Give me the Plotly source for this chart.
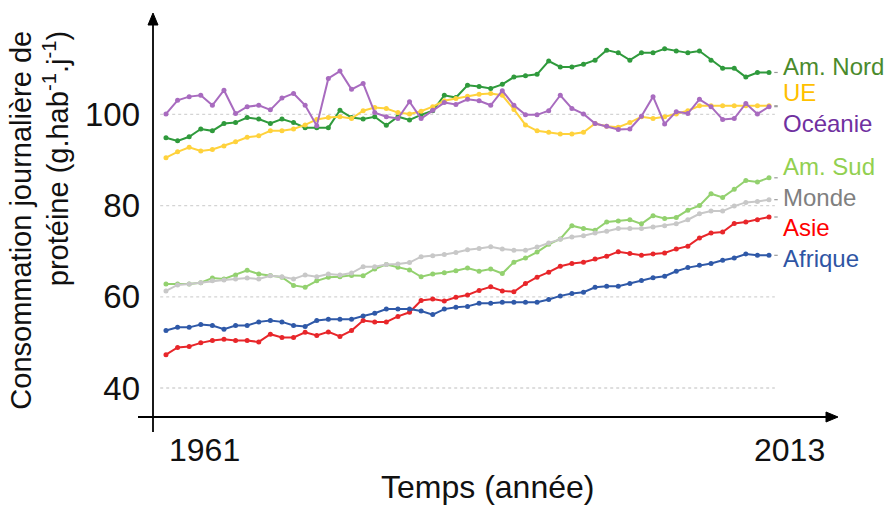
import plotly.graph_objects as go

# years 1961 -> 2013
years = list(range(1961, 2014))

am_nord = [94.9, 94.2, 95.1, 96.8, 96.4, 98.0, 98.2, 99.3, 99.0, 98.0, 99.0, 98.2, 97.1, 97.1, 97.1, 100.9, 99.3, 99.0,
           99.5, 97.6, 99.5, 98.8, 99.9, 100.8, 104.2, 103.7, 106.4, 106.1, 105.7, 106.6, 108.2, 108.5, 108.8, 111.7,
           110.4, 110.4, 111.0, 111.9, 114.1, 113.5, 111.9, 113.5, 113.5, 114.4, 113.9, 113.5, 113.9, 111.9, 110.1,
           110.1, 108.2, 109.2, 109.2]
ue = [90.5, 91.8, 92.8, 92.0, 92.3, 93.1, 94.0, 95.0, 95.3, 96.4, 96.4, 96.8, 97.7, 98.9, 99.3, 99.5, 99.1, 100.8,
      101.5, 101.3, 100.4, 100.1, 100.7, 101.7, 103.0, 103.5, 104.0, 104.4, 104.6, 104.2, 101.1, 97.7, 96.4, 96.1,
      95.7, 95.7, 96.1, 98.0, 97.4, 97.2, 98.2, 99.5, 99.1, 99.5, 100.1, 100.8, 101.9, 101.9, 101.9, 101.9, 101.9,
      101.9, 101.9]
oceanie = [100.1, 103.1, 103.9, 104.2, 102.0, 105.3, 100.2, 101.7, 102.0, 101.0, 103.6, 104.6, 102.0, 97.5, 107.9,
           109.5, 105.5, 106.8, 100.4, 99.5, 99.1, 102.8, 99.1, 100.9, 102.6, 102.2, 103.3, 103.0, 102.0, 105.2,
           102.0, 99.9, 99.9, 100.8, 104.2, 101.3, 100.1, 98.0, 97.4, 96.7, 96.8, 99.6, 103.9, 97.9, 100.6, 100.2,
           103.3, 101.7, 98.9, 99.1, 102.4, 100.1, 101.7]
am_sud = [62.8, 62.8, 62.8, 63.1, 64.1, 63.9, 64.8, 65.8, 65.0, 64.7, 64.3, 62.5, 62.1, 63.5, 64.3, 64.4, 64.7, 64.6,
          66.1, 67.1, 66.5, 65.9, 64.4, 65.0, 65.3, 65.7, 66.3, 65.6, 66.1, 65.1, 67.6, 68.5, 69.8, 71.5, 72.7, 75.6,
          75.0, 74.6, 76.4, 76.6, 76.9, 76.0, 77.8, 77.2, 77.4, 79.0, 80.0, 82.6, 81.8, 83.6, 85.5, 85.2, 86.1]
monde = [61.3, 62.6, 62.8, 63.1, 63.5, 63.7, 63.9, 64.1, 63.9, 64.6, 64.4, 63.9, 64.8, 64.4, 65.0, 64.8, 65.2, 66.6,
         66.6, 67.1, 67.2, 67.5, 68.8, 69.0, 69.3, 69.7, 70.3, 70.6, 71.0, 70.5, 70.2, 70.2, 70.9, 71.8, 72.6, 73.1,
         73.4, 74.0, 74.4, 75.0, 75.0, 75.0, 75.3, 75.6, 76.0, 76.9, 78.2, 78.8, 78.8, 79.9, 80.7, 80.9, 81.3]
asie = [47.3, 48.9, 49.1, 49.9, 50.4, 50.7, 50.4, 50.4, 50.1, 51.8, 51.1, 51.1, 52.2, 51.5, 52.3, 51.3, 52.6, 54.8,
        54.5, 54.5, 55.7, 56.6, 59.2, 59.5, 59.1, 59.9, 60.4, 61.4, 62.2, 61.3, 61.1, 62.9, 64.3, 65.4, 66.7, 67.3,
        67.6, 68.3, 68.9, 69.9, 69.5, 69.1, 69.4, 69.6, 70.5, 71.1, 72.9, 74.0, 74.2, 76.1, 76.4, 76.9, 77.5]
afrique = [52.6, 53.3, 53.3, 53.9, 53.7, 52.9, 53.7, 53.7, 54.5, 54.8, 54.5, 53.7, 53.5, 54.8, 55.1, 55.1, 55.1, 55.8,
           56.4, 57.3, 57.3, 57.3, 56.9, 56.1, 57.3, 57.7, 57.9, 58.6, 58.6, 58.8, 58.8, 58.8, 58.8, 59.4, 60.2, 60.7,
           61.0, 62.1, 62.3, 62.3, 62.9, 63.6, 64.2, 64.5, 65.6, 66.4, 66.9, 67.3, 68.0, 68.5, 69.4, 69.1, 69.1]

names = ['Am. Nord', 'UE', 'Océanie', 'Am. Sud', 'Monde', 'Asie', 'Afrique']
series = [am_nord, ue, oceanie, am_sud, monde, asie, afrique]
line_colors = ['#2f9a3c', '#ffd23c', '#a86bbf', '#93d16f', '#c8c8c8', '#e8262a', '#2f59a8']
label_colors = ['#4a8a2c', '#ffc000', '#7030a0', '#92d050', '#808080', '#ff0000', '#2f55a4']
label_y = [110.6, 104.7, 97.9, 88.5, 81.7, 75.1, 68.3]   # where the end labels sit

y_ticks = [40, 60, 80, 100]
x_ticks = [1961, 2013]

FONT = 'Liberation Sans, Arial, sans-serif'

fig = go.Figure()

# dotted grid lines (drawn first so they sit under the data)
for v in y_ticks:
    fig.add_shape(type='line', xref='x', yref='y', x0=1960.5, x1=2013.5, y0=v, y1=v,
                  line=dict(color='#d4d4d4', width=1.3, dash='dot'), layer='below')

for name, vals, lc in zip(names, series, line_colors):
    fig.add_trace(go.Scatter(x=years, y=vals, name=name, mode='lines+markers',
                             line=dict(color=lc, width=2),
                             marker=dict(color=lc, size=5)))
    # tiny leader dash after the last point
    fig.add_shape(type='line', xref='x', yref='y', x0=years[-1] + 0.45, x1=years[-1] + 0.75,
                  y0=vals[-1], y1=vals[-1], line=dict(color='#9a9a9a', width=1.2))

# series names at the line ends
for name, ly, tc in zip(names, label_y, label_colors):
    fig.add_annotation(x=2014, y=ly, xref='x', yref='y', text=name, showarrow=False,
                       xanchor='left', yanchor='middle', font=dict(size=24, color=tc, family=FONT))

# x tick labels (offset like the original)
for yr, shift in zip(x_ticks, [39, 20]):
    fig.add_annotation(x=yr, y=-0.081, xref='x', yref='paper', text=str(yr), showarrow=False,
                       xshift=shift, yanchor='middle', font=dict(size=32, color='#111111', family=FONT))

# axis titles
fig.add_annotation(x=0.487, y=-0.172, xref='paper', yref='paper', text='Temps (année)', showarrow=False,
                   xanchor='center', yanchor='middle', font=dict(size=32, color='#111111', family=FONT))
fig.add_annotation(x=-0.165, y=0.484, xref='paper', yref='paper', textangle=-90, align='right',
                   text='Consommation journalière de<br>protéine (g.hab<sup>-1</sup>.j<sup>-1</sup>)',
                   showarrow=False, xanchor='center', yanchor='middle',
                   font=dict(size=29, color='#111111', family=FONT))

# axes: lines crossing at the origin + triangle heads (pixel offsets)
fig.add_shape(type='line', xref='paper', yref='paper', x0=0, x1=0, ysizemode='pixel', yanchor=0,
              y0=-15, y1=396, line=dict(color='#000000', width=1.8))
fig.add_shape(type='path', xref='paper', yref='paper', xsizemode='pixel', ysizemode='pixel',
              xanchor=0, yanchor=1, path='M -5,-15 L 0,-3 L 5,-15 Z',
              fillcolor='#000000', line=dict(color='#000000', width=1))
fig.add_shape(type='line', xref='paper', yref='paper', y0=0, y1=0, xsizemode='pixel', xanchor=0,
              x0=-15, x1=675, line=dict(color='#000000', width=1.8))
fig.add_shape(type='path', xref='paper', yref='paper', xsizemode='pixel', ysizemode='pixel',
              xanchor=1, yanchor=0, path='M -14,-5 L -2,0 L -14,5 Z',
              fillcolor='#000000', line=dict(color='#000000', width=1))

fig.update_xaxes(range=[1959.88, 2019.12], showgrid=False, zeroline=False, showline=False,
                 showticklabels=False, ticks='')
fig.update_yaxes(range=[33.64, 122.9], tickvals=y_ticks, showgrid=False, zeroline=False, showline=False,
                 ticks='', ticklabelstandoff=12, tickfont=dict(size=33, color='#111111', family=FONT))

fig.update_layout(width=894, height=505, showlegend=False,
                  margin=dict(l=153, r=54, t=10, b=88),
                  plot_bgcolor='white', paper_bgcolor='white')

# page body has an 8px default margin -> drop it so the figure fills the window
fig.write_html('out.html', config={'displayModeBar': False},
               post_script="document.body.style.margin='0';")
